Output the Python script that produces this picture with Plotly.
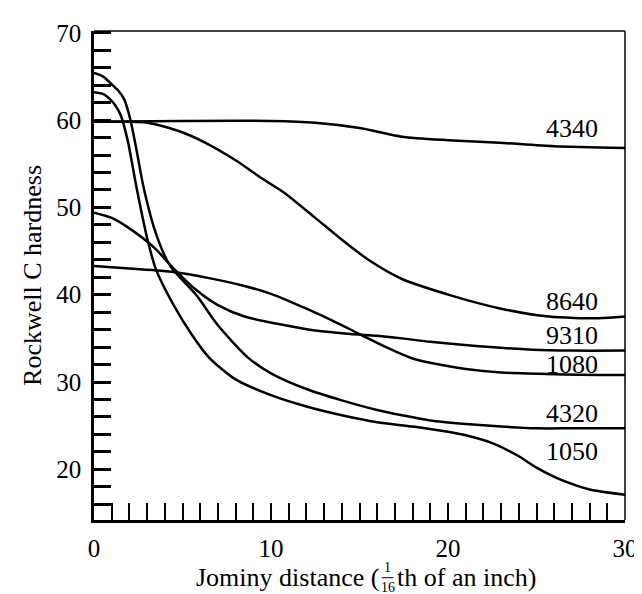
import plotly.graph_objects as go

# ---- data ----
steel_1050_x = [0, 0.5, 0.9, 1.2, 1.5, 1.9, 2.4, 3.0, 3.5, 4.5, 5.5, 6.5, 8, 10, 12, 14, 16, 18, 20, 21, 22.5, 24, 25, 26.5, 28, 30]
steel_1050_y = [63.2, 63.0, 62.4, 61.7, 60.6, 57.7, 52.3, 46.5, 42.9, 38.8, 35.5, 32.8, 30.3, 28.5, 27.2, 26.2, 25.4, 24.9, 24.3, 23.9, 23.0, 21.5, 20.2, 18.7, 17.7, 17.1]

steel_4320_x = [0, 0.5, 1.05, 1.4, 1.7, 2.05, 2.4, 2.8, 3.5, 4.3, 5.8, 7, 8.7, 10, 12, 14, 16, 17.4, 19, 21, 23, 25, 27, 30]
steel_4320_y = [65.4, 65.0, 64.0, 63.3, 62.4, 60.1, 56.6, 52.3, 47.0, 43.3, 39.9, 36.5, 32.8, 31.0, 29.2, 27.9, 26.8, 26.2, 25.6, 25.2, 24.9, 24.7, 24.7, 24.7]

steel_9310_x = [0, 1, 2, 3.4, 4.5, 5.8, 7, 8.5, 10.8, 12.5, 14.5, 16, 17.4, 19, 21.1, 24.8, 27, 30]
steel_9310_y = [49.4, 48.8, 47.6, 45.4, 43.0, 40.5, 38.8, 37.5, 36.5, 35.9, 35.5, 35.3, 35.0, 34.6, 34.2, 33.7, 33.6, 33.6]

steel_1080_x = [0, 2, 4.5, 6.5, 8.5, 10, 12, 13.5, 15, 16.5, 18, 19.5, 21, 23, 26, 30]
steel_1080_y = [43.3, 43.0, 42.6, 41.9, 41.0, 40.1, 38.4, 37.0, 35.5, 34.0, 32.7, 32.0, 31.5, 31.1, 30.9, 30.8]

steel_8640_x = [0, 2, 3, 4.7, 6.3, 8, 9.5, 10.8, 12.5, 14, 15.5, 17.4, 20.2, 23, 25.7, 28.5, 30]
steel_8640_y = [59.8, 59.8, 59.7, 58.8, 57.4, 55.4, 53.3, 51.6, 48.8, 46.3, 44.0, 41.8, 39.9, 38.4, 37.5, 37.3, 37.5]

steel_4340_x = [0, 5, 10, 12.5, 15, 17.4, 20, 22.9, 26, 30]
steel_4340_y = [59.8, 59.9, 59.9, 59.7, 59.1, 58.1, 57.7, 57.4, 57.0, 56.8]

series = {
    "4340": (steel_4340_x, steel_4340_y),
    "8640": (steel_8640_x, steel_8640_y),
    "9310": (steel_9310_x, steel_9310_y),
    "1080": (steel_1080_x, steel_1080_y),
    "4320": (steel_4320_x, steel_4320_y),
    "1050": (steel_1050_x, steel_1050_y),
}

# curve labels: (x, y) in data units
label_names = ["4340", "8640", "9310", "1080", "4320", "1050"]
label_x = [27.0, 27.0, 27.0, 27.0, 27.0, 27.0]
label_y = [59.0, 39.2, 35.3, 32.0, 26.4, 22.0]

x_tick_vals = [0, 10, 20, 30]
y_tick_vals = [20, 30, 40, 50, 60, 70]

SERIF = "Liberation Serif, Times New Roman, serif"

fig = go.Figure()
for name, (xs, ys) in series.items():
    fig.add_trace(go.Scatter(
        x=xs, y=ys, mode="lines", name=name,
        line=dict(color="black", width=2.5, shape="spline", smoothing=0.7),
        showlegend=False, hoverinfo="skip",
    ))

for n, lx, ly in zip(label_names, label_x, label_y):
    fig.add_annotation(x=lx, y=ly, text=n, showarrow=False,
                       font=dict(family=SERIF, size=26, color="black"),
                       xanchor="center", yanchor="middle")

# axis titles
fig.add_annotation(xref="paper", yref="paper", x=-0.116, y=0.5,
                   text="Rockwell C hardness", textangle=-90, showarrow=False,
                   xanchor="center", yanchor="middle",
                   font=dict(family=SERIF, size=26, color="black"))

frac_x = 0.553
title_y = -0.118
fig.add_annotation(xref="paper", yref="paper", x=frac_x - 0.013, y=title_y,
                   text="Jominy distance (", showarrow=False, xanchor="right", yanchor="middle",
                   font=dict(family=SERIF, size=26, color="black"))
fig.add_annotation(xref="paper", yref="paper", x=frac_x, y=title_y + 0.020,
                   text="1", showarrow=False, xanchor="center", yanchor="middle",
                   font=dict(family=SERIF, size=14, color="black"))
fig.add_annotation(xref="paper", yref="paper", x=frac_x, y=title_y - 0.021,
                   text="16", showarrow=False, xanchor="center", yanchor="middle",
                   font=dict(family=SERIF, size=14, color="black"))
fig.add_shape(type="line", xref="paper", yref="paper",
              x0=frac_x - 0.011, x1=frac_x + 0.011, y0=title_y, y1=title_y,
              line=dict(color="black", width=1))
fig.add_annotation(xref="paper", yref="paper", x=frac_x + 0.013, y=title_y,
                   text="th of an inch)", showarrow=False, xanchor="left", yanchor="middle",
                   font=dict(family=SERIF, size=26, color="black"))

# thinner top and right frame lines
fig.add_shape(type="line", xref="paper", yref="paper", x0=0, x1=1, y0=1, y1=1,
              line=dict(color="black", width=1.5))
fig.add_shape(type="line", xref="paper", yref="paper", x0=1, x1=1, y0=0, y1=1,
              line=dict(color="black", width=1.5))

fig.update_layout(
    width=642, height=594,
    margin=dict(l=86, r=15, t=17, b=82),
    paper_bgcolor="white", plot_bgcolor="white",
    font=dict(family=SERIF, size=26, color="black"),
)
fig.update_xaxes(
    range=[0, 30], tickvals=x_tick_vals, ticks="inside", ticklen=17, tickwidth=2,
    tickcolor="black", showline=True, linecolor="black", linewidth=2.5, mirror=False,
    showgrid=False, zeroline=False, ticklabelstandoff=4,
    minor=dict(dtick=1, ticks="inside", ticklen=17, tickwidth=2, tickcolor="black", showgrid=False),
    tickfont=dict(family=SERIF, size=25, color="black"),
)
fig.update_yaxes(
    range=[14.2, 70.2], tickvals=y_tick_vals, ticks="inside", ticklen=17, tickwidth=2.5,
    tickcolor="black", showline=True, linecolor="black", linewidth=2.5, mirror=False,
    showgrid=False, zeroline=False, ticklabelstandoff=5,
    minor=dict(tick0=0, dtick=2, ticks="inside", ticklen=17, tickwidth=2.5, tickcolor="black", showgrid=False),
    tickfont=dict(family=SERIF, size=25, color="black"),
)

fig.write_html("out.html")
